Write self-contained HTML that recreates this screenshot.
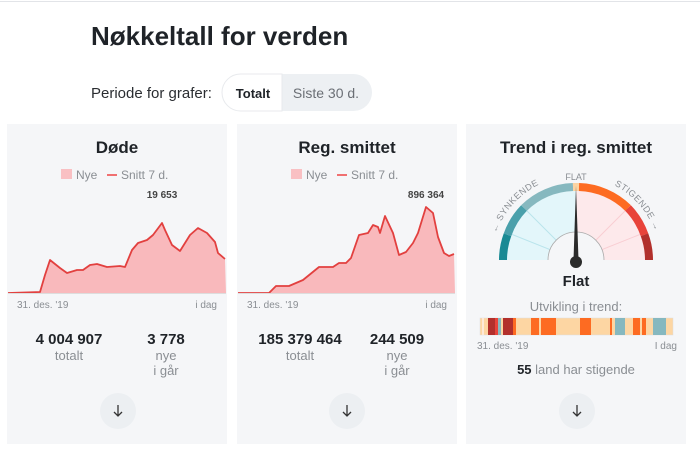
<!DOCTYPE html>
<html><head><meta charset="utf-8"><style>
html,body{margin:0;padding:0;background:#fff;}
svg{display:block;font-family:"Liberation Sans",sans-serif;}
</style></head><body>
<svg width="700" height="467" viewBox="0 0 700 467" xmlns="http://www.w3.org/2000/svg">
<defs><path id="arcp" d="M492 260 A84 84 0 0 1 660 260"/></defs>
<line x1="0" y1="1.5" x2="700" y2="1.5" stroke="#e2e4e8" stroke-width="1"/>
<text x="91" y="45" font-size="26" font-weight="bold" fill="#1f2328">Nøkkeltall for verden</text>
<text x="91" y="98" font-size="15" fill="#2a2d31">Periode for grafer:</text>
<rect x="222" y="74" width="150" height="37" rx="18.5" fill="#edf0f3"/>
<path d="M240.5 74 H282 V111 H240.5 A18.5 18.5 0 0 1 240.5 74 Z" fill="#fff" stroke="#e8eaed"/>
<text x="253" y="98" font-size="13" font-weight="bold" fill="#1f2328" text-anchor="middle">Totalt</text>
<text x="326" y="98" font-size="14" fill="#6b6f75" text-anchor="middle">Siste 30 d.</text>

<rect x="7" y="124" width="220" height="320" fill="#f5f6f8"/>
<rect x="237" y="124" width="220" height="320" fill="#f5f6f8"/>
<rect x="466" y="124" width="220" height="320" fill="#f5f6f8"/>

<g font-size="17" font-weight="bold" fill="#1f2328" text-anchor="middle">
<text x="117" y="153">Døde</text><text x="347" y="153">Reg. smittet</text><text x="576" y="153">Trend i reg. smittet</text></g>

<g font-size="12" fill="#8a8e93">
<rect x="61" y="169" width="11" height="10" fill="#f9c0c3"/><text x="76" y="179">Nye</text>
<line x1="107" y1="175" x2="117" y2="175" stroke="#e44" stroke-width="1.5"/><text x="121" y="179">Snitt 7 d.</text>
<rect x="291" y="169" width="11" height="10" fill="#f9c0c3"/><text x="306" y="179">Nye</text>
<line x1="337" y1="175" x2="347" y2="175" stroke="#e44" stroke-width="1.5"/><text x="351" y="179">Snitt 7 d.</text>
</g>

<path d="M8 293 L40 292 L45 275 L50 260 L60 268 L67 273 L77 270 L83 270 L90 265 L97 264 L107 267 L120 266 L125 267 L132 250 L138 243 L147 240 L153 235 L162 223 L165 230 L172 245 L180 251 L190 235 L198 228 L207 233 L215 242 L218 253 L225 259 L226 293 Z" fill="#f9b9bc"/>
<path d="M8 293 L40 292 L45 275 L50 260 L60 268 L67 273 L77 270 L83 270 L90 265 L97 264 L107 267 L120 266 L125 267 L132 250 L138 243 L147 240 L153 235 L162 223 L165 230 L172 245 L180 251 L190 235 L198 228 L207 233 L215 242 L218 253 L225 259" fill="none" stroke="#e2403f" stroke-width="1.8" stroke-linejoin="round"/>
<text x="162" y="198" font-size="10" font-weight="bold" fill="#444" text-anchor="middle">19 653</text>
<line x1="8" y1="293.5" x2="226" y2="293.5" stroke="#ddd"/>

<path d="M238 293 L269 293 L276 286 L289 286 L303 280 L319 267 L333 267 L339 263 L346 263 L351 258 L359 235 L368 233 L373 225 L378 227 L380 233 L385 216 L393 233 L399 255 L406 252 L413 243 L418 233 L426 207 L433 213 L438 237 L444 253 L449 256 L454 254 L455 293 Z" fill="#f9b9bc"/>
<path d="M238 293 L269 293 L276 286 L289 286 L303 280 L319 267 L333 267 L339 263 L346 263 L351 258 L359 235 L368 233 L373 225 L378 227 L380 233 L385 216 L393 233 L399 255 L406 252 L413 243 L418 233 L426 207 L433 213 L438 237 L444 253 L449 256 L454 254" fill="none" stroke="#e2403f" stroke-width="1.8" stroke-linejoin="round"/>
<text x="426" y="198" font-size="10" font-weight="bold" fill="#444" text-anchor="middle">896 364</text>
<line x1="238" y1="293.5" x2="455" y2="293.5" stroke="#ddd"/>

<g font-size="10" fill="#8a8e93">
<text x="17" y="308">31. des. '19</text><text x="217" y="308" text-anchor="end">i dag</text>
<text x="247" y="308">31. des. '19</text><text x="447" y="308" text-anchor="end">i dag</text>
</g>

<g font-size="15" font-weight="bold" fill="#1f2328" text-anchor="middle">
<text x="69" y="344">4 004 907</text><text x="166" y="344">3 778</text>
<text x="300" y="344">185 379 464</text><text x="397" y="344">244 509</text></g>
<g font-size="13" fill="#8a8e93" text-anchor="middle">
<text x="69" y="360">totalt</text><text x="166" y="360">nye</text><text x="166" y="375">i går</text>
<text x="300" y="360">totalt</text><text x="397" y="360">nye</text><text x="397" y="375">i går</text></g>

<!-- gauge -->
<path d="M499 260 A77 77 0 0 1 576 183 L576 260 Z" fill="#e3f6fa"/>
<path d="M576 183 A77 77 0 0 1 653 260 L576 260 Z" fill="#fde9eb"/>
<g stroke-width="1" opacity="0.7">
<line x1="576" y1="260" x2="506" y2="232" stroke="#a8dde6"/><line x1="576" y1="260" x2="522" y2="206" stroke="#a8dde6"/>
<line x1="576" y1="260" x2="646" y2="232" stroke="#f7c2c8"/><line x1="576" y1="260" x2="630" y2="206" stroke="#f7c2c8"/></g>
<g fill="none" stroke-width="8">
<path d="M503 260 A73 73 0 0 1 507.5 234.8" stroke="#1a8a94"/>
<path d="M507.5 234.8 A73 73 0 0 1 524 208" stroke="#4aa0ab"/>
<path d="M524 208 A73 73 0 0 1 573 187" stroke="#86b8bf"/>
<path d="M573 187 A73 73 0 0 1 579 187" stroke="#fcd4a2"/>
<path d="M579 187 A73 73 0 0 1 628 208" stroke="#fd6b22"/>
<path d="M628 208 A73 73 0 0 1 644.5 234.8" stroke="#e8433a"/>
<path d="M644.5 234.8 A73 73 0 0 1 649 260" stroke="#b2302c"/>
</g>
<path d="M548 260 A28 28 0 0 1 604 260" fill="#f5f6f8" stroke="#aaa" stroke-width="0.8"/>
<rect x="547" y="260" width="58" height="3" fill="#f5f6f8"/>
<path d="M573.5 260 L576 186 L578.5 260 Z" fill="#2b2b2b"/>
<circle cx="576" cy="262" r="6" fill="#2b2b2b"/>
<text x="576" y="180" font-size="9" fill="#8a8e93" text-anchor="middle">FLAT</text>
<text font-size="9" fill="#8a8e93" letter-spacing="0.5"><textPath href="#arcp" startOffset="23%" text-anchor="middle">← SYNKENDE</textPath></text>
<text font-size="9" fill="#8a8e93" letter-spacing="0.5"><textPath href="#arcp" startOffset="77%" text-anchor="middle">STIGENDE →</textPath></text>
<text x="576" y="286" font-size="15" font-weight="bold" fill="#1f2328" text-anchor="middle">Flat</text>
<text x="576" y="311" font-size="13" fill="#8a8e93" text-anchor="middle">Utvikling i trend:</text>

<rect x="480" y="318" width="193" height="17" fill="#fdd6a3" stroke="#ddd" stroke-width="0.5"/>
<g>
<rect x="482" y="318" width="2" height="17" fill="#fde9d8"/>
<rect x="488" y="318" width="7" height="17" fill="#b2302c"/>
<rect x="495" y="318" width="3" height="17" fill="#e8433a"/>
<rect x="498" y="318" width="3" height="17" fill="#86b8bf"/>
<rect x="503" y="318" width="10" height="17" fill="#b2302c"/>
<rect x="513" y="318" width="3" height="17" fill="#fd6b22"/>
<rect x="531" y="318" width="8" height="17" fill="#fd6b22"/>
<rect x="541" y="318" width="15" height="17" fill="#fd6b22"/>
<rect x="580" y="318" width="11" height="17" fill="#fd6b22"/>
<rect x="610" y="318" width="2" height="17" fill="#fd6b22"/>
<rect x="615" y="318" width="10" height="17" fill="#86b8bf"/>
<rect x="633" y="318" width="7" height="17" fill="#fd6b22"/>
<rect x="642" y="318" width="4" height="17" fill="#fd6b22"/>
<rect x="653" y="318" width="13" height="17" fill="#86b8bf"/>
</g>
<g font-size="10" fill="#8a8e93"><text x="477" y="349">31. des. '19</text><text x="677" y="349" text-anchor="end">I dag</text></g>
<text x="576" y="374" font-size="13" fill="#8a8e93" text-anchor="middle"><tspan font-weight="bold" fill="#1f2328">55</tspan> land har stigende</text>

<g>
<circle cx="118" cy="411" r="18" fill="#eceff2"/><circle cx="347" cy="411" r="18" fill="#eceff2"/><circle cx="577" cy="411" r="18" fill="#eceff2"/>
<g stroke="#333" stroke-width="1.3" fill="none">
<path d="M118 405 V416 M114 412 L118 416 L122 412"/>
<path d="M347 405 V416 M343 412 L347 416 L351 412"/>
<path d="M577 405 V416 M573 412 L577 416 L581 412"/></g></g>
</svg>
</body></html>
